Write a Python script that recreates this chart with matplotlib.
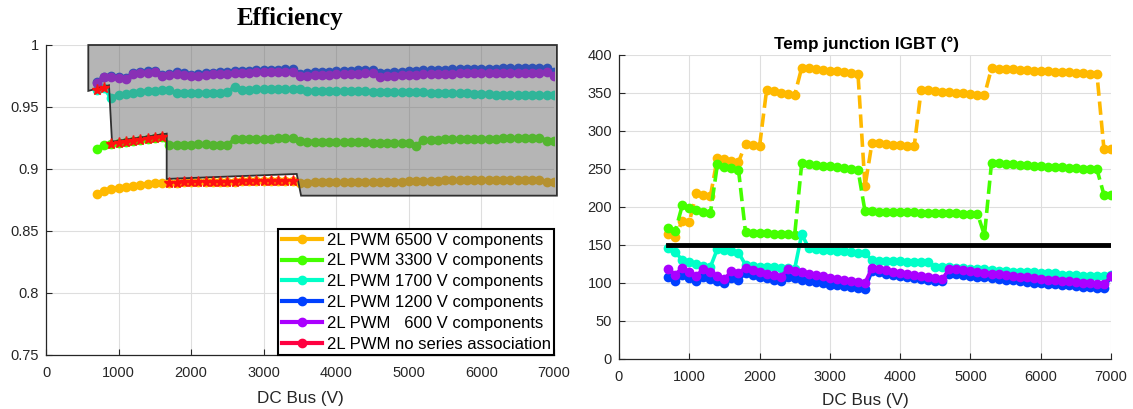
import matplotlib
matplotlib.use("Agg")

import matplotlib.pyplot as plt
from matplotlib.lines import Line2D
from matplotlib.patches import Polygon
from matplotlib.ticker import FormatStrFormatter
import numpy as np

plt.rcParams["font.family"] = ["Liberation Sans", "DejaVu Sans"]

# DC bus sweep (V), one point every 100 V
dc_bus = np.arange(700, 7001, 100)
dc_bus_no_series = np.arange(700, 3401, 100)

series_labels = [
    "2L PWM 6500 V components",
    "2L PWM 3300 V components",
    "2L PWM 1700 V components",
    "2L PWM 1200 V components",
    "2L PWM   600 V components",
    "2L PWM no series association",
]
series_colors = ["#FFB900", "#44FF00", "#00FFC8", "#0040FF", "#AA00FF", "#FF0040"]

# efficiency
eff_6500 = [0.8800, 0.8822, 0.8838, 0.8850, 0.8858, 0.8866, 0.8873, 0.8879, 0.8884, 0.8888,
            0.8890, 0.8891, 0.8892, 0.8893, 0.8894, 0.8895, 0.8896, 0.8897, 0.8898, 0.8899,
            0.8900, 0.8901, 0.8902, 0.8903, 0.8904, 0.8905, 0.8906, 0.8906, 0.8890, 0.8891,
            0.8892, 0.8893, 0.8893, 0.8894, 0.8895, 0.8895, 0.8896, 0.8897, 0.8897, 0.8898,
            0.8898, 0.8899, 0.8899, 0.8900, 0.8900, 0.8905, 0.8906, 0.8907, 0.8908, 0.8908,
            0.8909, 0.8910, 0.8910, 0.8911, 0.8912, 0.8912, 0.8913, 0.8913, 0.8914, 0.8914,
            0.8915, 0.8915, 0.8894, 0.8894]
eff_3300 = [0.9165, 0.9192, 0.9203, 0.9212, 0.9220, 0.9228, 0.9236, 0.9244, 0.9252, 0.9260,
            0.9196, 0.9196, 0.9197, 0.9197, 0.9198, 0.9198, 0.9197, 0.9196, 0.9194, 0.9238,
            0.9240, 0.9242, 0.9243, 0.9244, 0.9245, 0.9246, 0.9247, 0.9248, 0.9222, 0.9221,
            0.9220, 0.9219, 0.9219, 0.9218, 0.9217, 0.9216, 0.9215, 0.9214, 0.9213, 0.9212,
            0.9211, 0.9210, 0.9209, 0.9208, 0.9186, 0.9232, 0.9234, 0.9236, 0.9238, 0.9239,
            0.9240, 0.9241, 0.9242, 0.9243, 0.9244, 0.9245, 0.9246, 0.9247, 0.9248, 0.9249,
            0.9250, 0.9250, 0.9228, 0.9228]
eff_1700 = [0.9640, 0.9655, 0.9572, 0.9598, 0.9608, 0.9616, 0.9623, 0.9628, 0.9632, 0.9635,
            0.9637, 0.9611, 0.9612, 0.9613, 0.9614, 0.9615, 0.9616, 0.9616, 0.9617, 0.9662,
            0.9640, 0.9641, 0.9642, 0.9643, 0.9643, 0.9644, 0.9644, 0.9645, 0.9645, 0.9629,
            0.9629, 0.9629, 0.9630, 0.9630, 0.9630, 0.9630, 0.9630, 0.9630, 0.9619, 0.9619,
            0.9619, 0.9619, 0.9619, 0.9618, 0.9618, 0.9618, 0.9611, 0.9610, 0.9610, 0.9609,
            0.9609, 0.9609, 0.9608, 0.9608, 0.9608, 0.9599, 0.9598, 0.9598, 0.9598, 0.9597,
            0.9597, 0.9597, 0.9597, 0.9597]
eff_1200 = [0.9700, 0.9742, 0.9748, 0.9742, 0.9730, 0.9772, 0.9780, 0.9787, 0.9793, 0.9758,
            0.9766, 0.9780, 0.9772, 0.9758, 0.9765, 0.9771, 0.9777, 0.9781, 0.9785, 0.9788,
            0.9790, 0.9793, 0.9795, 0.9797, 0.9799, 0.9801, 0.9803, 0.9805, 0.9770, 0.9775,
            0.9779, 0.9783, 0.9786, 0.9789, 0.9791, 0.9794, 0.9796, 0.9798, 0.9800, 0.9772,
            0.9778, 0.9782, 0.9786, 0.9789, 0.9792, 0.9795, 0.9797, 0.9799, 0.9801, 0.9803,
            0.9804, 0.9806, 0.9807, 0.9808, 0.9809, 0.9810, 0.9811, 0.9812, 0.9813, 0.9814,
            0.9815, 0.9815, 0.9816, 0.9785]
eff_600 = [0.9695, 0.9738, 0.9742, 0.9735, 0.9722, 0.9765, 0.9772, 0.9778, 0.9784, 0.9746,
           0.9755, 0.9768, 0.9760, 0.9746, 0.9752, 0.9758, 0.9763, 0.9767, 0.9770, 0.9773,
           0.9775, 0.9777, 0.9779, 0.9780, 0.9782, 0.9783, 0.9784, 0.9785, 0.9748, 0.9752,
           0.9755, 0.9758, 0.9761, 0.9764, 0.9766, 0.9768, 0.9770, 0.9771, 0.9773, 0.9744,
           0.9750, 0.9754, 0.9757, 0.9760, 0.9762, 0.9764, 0.9766, 0.9768, 0.9769, 0.9770,
           0.9771, 0.9772, 0.9773, 0.9774, 0.9775, 0.9776, 0.9776, 0.9777, 0.9777, 0.9778,
           0.9778, 0.9778, 0.9779, 0.9753]
eff_no_series = [0.9640, 0.9655, 0.9203, 0.9212, 0.9220, 0.9228, 0.9236, 0.9244, 0.9252, 0.9260,
                 0.8890, 0.8891, 0.8892, 0.8893, 0.8894, 0.8895, 0.8896, 0.8897, 0.8898, 0.8899,
                 0.8900, 0.8901, 0.8902, 0.8903, 0.8904, 0.8905, 0.8906, 0.8906]

# shaded envelope (gain of series association)
envelope_v = [583, 583, 868, 909, 1663, 1663, 3455, 3515, 7040, 7040]
envelope_eff = [1.0, 0.963, 0.9675, 0.922, 0.9285, 0.892, 0.896, 0.8785, 0.8785, 1.0]

# junction temperature
tj_6500 = [164, 160, 182, 180, 218, 216, 214, 265, 263, 261,
           259, 283, 281.5, 280, 354, 352, 350.5, 349, 347.5, 383.5,
           382.5, 381.5, 380.5, 379.5, 378.5, 377.5, 376.5, 375.5, 227, 284.5,
           283.7, 283, 282.2, 281.5, 280.8, 280, 354.5, 353.6, 352.7, 351.8,
           351, 350.2, 349.4, 348.6, 348, 347.3, 382.5, 382, 381.5, 381,
           380.5, 380, 379.5, 379, 378.5, 378, 377.5, 377, 376.5, 376,
           375.5, 375, 276, 276]
tj_3300 = [173, 168, 202, 199, 196, 194, 192, 256, 253, 251,
           249, 167, 166.3, 165.7, 165.2, 164.8, 164.4, 164.1, 163.8, 257.5,
           256.5, 255.5, 254.5, 253.5, 252.5, 251.5, 250.5, 249, 194.5, 194.2,
           194, 193.7, 193.5, 193.2, 193, 192.8, 192.6, 192.4, 192.2, 192,
           191.8, 191.6, 191.4, 191.2, 191, 163, 258, 257.4, 256.8, 256.2,
           255.6, 255, 254.4, 253.8, 253.2, 252.6, 252, 251.4, 250.9, 250.4,
           249.9, 249.4, 216, 216]
tj_1700 = [146, 141, 130, 127, 125, 123, 121, 145, 143, 141.5,
           140, 124, 122.5, 121.5, 121, 120.5, 120, 119.5, 119, 164,
           146, 145, 144, 143, 142, 141.5, 141, 140, 139.5, 130,
           129.5, 129, 128.7, 128.4, 128, 127.7, 127.4, 127, 121.5, 121,
           120.5, 120, 119.5, 119, 118.5, 118, 117.5, 116, 115.5, 115,
           114.7, 114.3, 114, 113.6, 113.3, 113, 111, 110.6, 110.2, 109.8,
           109.4, 109, 108.6, 110]
tj_1200 = [108, 102, 110, 106, 102, 108, 105, 102, 100, 107,
           104, 113, 110, 108, 106, 104, 102, 108, 106, 104,
           102.5, 101, 99.5, 98, 97, 95.5, 94.5, 93.5, 92.5, 116,
           114, 112, 110.5, 109, 107.5, 106, 105, 104, 103, 102,
           112.5, 111.5, 110.5, 109.5, 108.5, 107.5, 106.5, 105.5, 104.5, 103.5,
           102.5, 101.5, 100.5, 99.8, 99, 98.2, 97.5, 96.8, 96, 95.3,
           94.6, 94, 93, 109]
tj_600 = [119, 111, 120, 114, 109, 119, 114, 109, 105, 116,
          113, 120, 117, 114.5, 112, 110, 108, 118, 116, 114,
          112, 110.5, 109, 107, 105.5, 104, 102, 101, 100, 120,
          118, 116.5, 115, 113.5, 112, 110.5, 109, 107.5, 106, 105,
          119, 117.8, 116.6, 115.5, 114.4, 113.3, 112.2, 111.2, 110.2, 109.2,
          108.2, 107.3, 106.4, 105.5, 104.6, 103.7, 102.8, 102, 101.2, 100.4,
          99.7, 99, 98.3, 109]

tj_limit = 150
tj_limit_v = [700, 7000]

eff_series = [eff_6500, eff_3300, eff_1700, eff_1200, eff_600]
tj_series = [tj_6500, tj_3300, tj_1700, tj_1200, tj_600]
tj_styles = ["--", "--", "-", "-", "-"]

TEXT = "#262626"
W, H = 1133, 409


def style_axes(ax):
    for side in ["top", "right"]:
        ax.spines[side].set_visible(False)
    for side in ["left", "bottom"]:
        ax.spines[side].set_color(TEXT)
        ax.spines[side].set_linewidth(0.9)
    ax.tick_params(direction="in", length=4, width=0.8, colors=TEXT, labelsize=10.5)
    ax.tick_params(axis="x", pad=8)
    ax.tick_params(axis="y", pad=5)
    ax.grid(True, color="#dedede", lw=0.8)
    ax.set_axisbelow(True)


fig = plt.figure(figsize=(W / 100, H / 100), dpi=100)

# ---- efficiency
ax1 = fig.add_axes([46 / W, 1 - 355 / H, 508 / W, 310 / H])
style_axes(ax1)
for vals, col in zip(eff_series, series_colors):
    ax1.plot(dc_bus, vals, "-", color=col, lw=3, marker="o", ms=5.5, mew=1.5,
             mfc=col, mec=col, zorder=2)
env = Polygon(list(zip(envelope_v, envelope_eff)), closed=True,
              facecolor=(0.4, 0.4, 0.4, 0.48), edgecolor="#303030", lw=1.3,
              zorder=3, clip_on=False)
ax1.add_patch(env)
ax1.plot(dc_bus_no_series, eff_no_series, linestyle="none", marker="*", ms=8,
         mew=1.0, color="#FF1010", zorder=4)
ax1.set_xlim(0, 7000)
ax1.set_ylim(0.75, 1.0)
ax1.set_xticks(range(0, 7001, 1000))
ax1.set_yticks([0.75, 0.8, 0.85, 0.9, 0.95, 1.0])
ax1.yaxis.set_major_formatter(FormatStrFormatter("%g"))
ax1.set_xlabel("DC Bus (V)", fontsize=12.3, color=TEXT)
ax1.xaxis.set_label_coords(0.5, -(391 - 355) / 310)

handles = [Line2D([], [], color=c, lw=3, marker="o", ms=6, mfc=c, mec=c)
           for c in series_colors]
leg = ax1.legend(handles, series_labels, loc="lower right", bbox_to_anchor=(1.0, 0.0),
                 borderaxespad=0, fontsize=12, fancybox=False, framealpha=1,
                 edgecolor="black", labelspacing=0.35, handlelength=2.4,
                 handletextpad=0.3, borderpad=0.2)
leg.get_frame().set_linewidth(1.5)
leg.set_zorder(10)

fig.text(290 / W, 1 - 18 / H, "Efficiency", family="Liberation Serif",
         weight="bold", size=18, ha="center", va="center")

# ---- junction temperature
ax2 = fig.add_axes([619 / W, 1 - 359 / H, 492 / W, 304 / H])
style_axes(ax2)
for vals, col, ls in zip(tj_series, series_colors, tj_styles):
    ax2.plot(dc_bus, vals, ls, color=col, lw=2.6, marker="o", ms=5.5, mew=1.5,
             mfc=col, mec=col, zorder=2)
ax2.plot(tj_limit_v, [tj_limit, tj_limit], color="black", lw=3.5, zorder=5)
ax2.set_xlim(0, 7000)
ax2.set_ylim(0, 400)
ax2.set_xticks(range(0, 7001, 1000))
ax2.set_yticks(range(0, 401, 50))
ax2.set_xlabel("DC Bus (V)", fontsize=12.3, color=TEXT)
ax2.xaxis.set_label_coords(0.5, -(393 - 359) / 304)

fig.text(867 / W, 1 - 44 / H, "Temp junction IGBT (°)", weight="bold",
         size=12.3, ha="center", va="center")

fig.savefig("out.png", dpi=100)
